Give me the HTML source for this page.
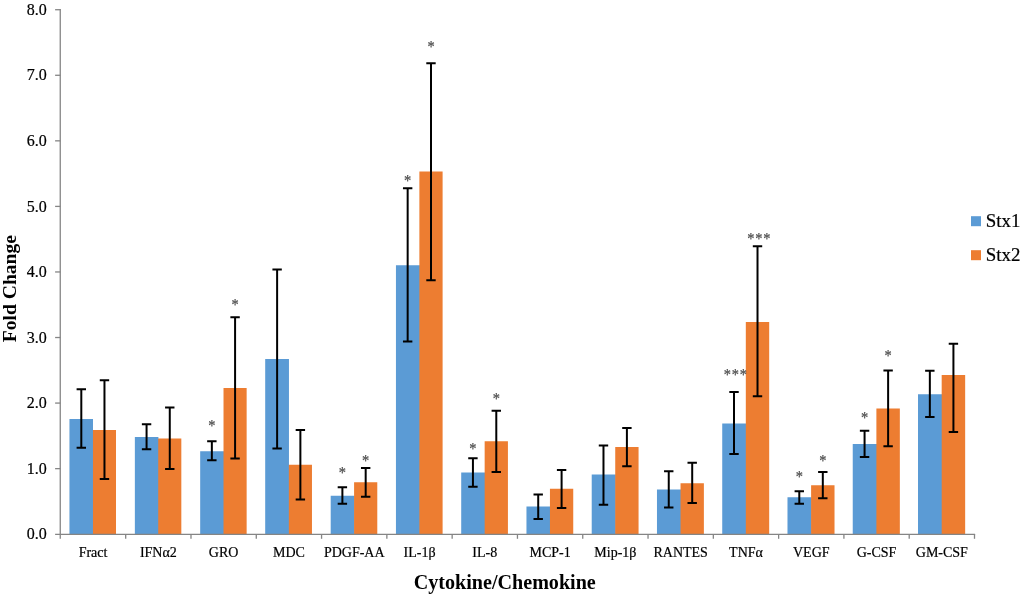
<!DOCTYPE html>
<html lang="en"><head><meta charset="utf-8"><title>Cytokine/Chemokine Fold Change</title>
<style>html,body{margin:0;padding:0;background:#fff}svg{display:block;will-change:transform;transform:translateZ(0)}text{font-family:"Liberation Serif","Times New Roman",serif}</style></head><body>
<svg width="1024" height="594" viewBox="0 0 1024 594">
<rect width="1024" height="594" fill="#fff"/>
<rect x="69.67" y="419.00" width="23.27" height="115.00" fill="#5b9bd5"/>
<rect x="92.34" y="430.00" width="23.66" height="104.00" fill="#ed7d31"/>
<rect x="69.67" y="419.00" width="23.27" height="115.00" fill="#5b9bd5"/>
<rect x="134.93" y="437.00" width="23.30" height="97.00" fill="#5b9bd5"/>
<rect x="157.62" y="438.50" width="23.70" height="95.50" fill="#ed7d31"/>
<rect x="134.93" y="437.00" width="23.30" height="97.00" fill="#5b9bd5"/>
<rect x="200.18" y="451.25" width="23.93" height="82.75" fill="#5b9bd5"/>
<rect x="223.51" y="388.00" width="23.13" height="146.00" fill="#ed7d31"/>
<rect x="265.44" y="359.00" width="23.36" height="175.00" fill="#5b9bd5"/>
<rect x="288.20" y="464.75" width="23.76" height="69.25" fill="#ed7d31"/>
<rect x="265.44" y="359.00" width="23.36" height="175.00" fill="#5b9bd5"/>
<rect x="330.69" y="495.75" width="23.99" height="38.25" fill="#5b9bd5"/>
<rect x="354.09" y="482.25" width="23.19" height="51.75" fill="#ed7d31"/>
<rect x="395.95" y="265.25" width="24.03" height="268.75" fill="#5b9bd5"/>
<rect x="419.38" y="171.50" width="23.22" height="362.50" fill="#ed7d31"/>
<rect x="461.21" y="472.50" width="24.06" height="61.50" fill="#5b9bd5"/>
<rect x="484.66" y="441.25" width="23.26" height="92.75" fill="#ed7d31"/>
<rect x="526.46" y="506.50" width="24.09" height="27.50" fill="#5b9bd5"/>
<rect x="549.95" y="488.75" width="23.29" height="45.25" fill="#ed7d31"/>
<rect x="591.72" y="474.50" width="24.12" height="59.50" fill="#5b9bd5"/>
<rect x="615.24" y="447.00" width="23.32" height="87.00" fill="#ed7d31"/>
<rect x="656.97" y="489.50" width="24.15" height="44.50" fill="#5b9bd5"/>
<rect x="680.53" y="483.25" width="23.35" height="50.75" fill="#ed7d31"/>
<rect x="722.23" y="423.50" width="24.19" height="110.50" fill="#5b9bd5"/>
<rect x="745.81" y="322.00" width="23.38" height="212.00" fill="#ed7d31"/>
<rect x="787.49" y="497.25" width="24.22" height="36.75" fill="#5b9bd5"/>
<rect x="811.10" y="485.25" width="23.42" height="48.75" fill="#ed7d31"/>
<rect x="852.74" y="444.00" width="24.25" height="90.00" fill="#5b9bd5"/>
<rect x="876.39" y="408.50" width="23.45" height="125.50" fill="#ed7d31"/>
<rect x="918.00" y="394.25" width="24.28" height="139.75" fill="#5b9bd5"/>
<rect x="941.68" y="375.00" width="23.48" height="159.00" fill="#ed7d31"/>
<g stroke="#858585" stroke-width="1.3" fill="none">
<line x1="60.25" y1="9.0" x2="60.25" y2="538.8"/>
<line x1="55.1" y1="534.45" x2="975.1" y2="534.45"/>
<line x1="55.1" y1="468.64" x2="60.4" y2="468.64"/>
<line x1="55.1" y1="403.08" x2="60.4" y2="403.08"/>
<line x1="55.1" y1="337.52" x2="60.4" y2="337.52"/>
<line x1="55.1" y1="271.96" x2="60.4" y2="271.96"/>
<line x1="55.1" y1="206.40" x2="60.4" y2="206.40"/>
<line x1="55.1" y1="140.84" x2="60.4" y2="140.84"/>
<line x1="55.1" y1="75.28" x2="60.4" y2="75.28"/>
<line x1="55.1" y1="9.72" x2="60.4" y2="9.72"/>
<line x1="125.69" y1="534.0" x2="125.69" y2="538.8"/>
<line x1="190.99" y1="534.0" x2="190.99" y2="538.8"/>
<line x1="256.28" y1="534.0" x2="256.28" y2="538.8"/>
<line x1="321.57" y1="534.0" x2="321.57" y2="538.8"/>
<line x1="386.86" y1="534.0" x2="386.86" y2="538.8"/>
<line x1="452.16" y1="534.0" x2="452.16" y2="538.8"/>
<line x1="517.45" y1="534.0" x2="517.45" y2="538.8"/>
<line x1="582.74" y1="534.0" x2="582.74" y2="538.8"/>
<line x1="648.04" y1="534.0" x2="648.04" y2="538.8"/>
<line x1="713.33" y1="534.0" x2="713.33" y2="538.8"/>
<line x1="778.62" y1="534.0" x2="778.62" y2="538.8"/>
<line x1="843.91" y1="534.0" x2="843.91" y2="538.8"/>
<line x1="909.21" y1="534.0" x2="909.21" y2="538.8"/>
<line x1="974.50" y1="534.0" x2="974.50" y2="538.8"/>
</g>
<g stroke="#000" fill="none">
<path d="M81.30 389.25V447.75" stroke-width="2.0"/>
<path d="M76.60 389.25h9.4M76.60 447.75h9.4" stroke-width="2.0"/>
<path d="M104.47 380.25V479.00" stroke-width="2.0"/>
<path d="M99.77 380.25h9.4M99.77 479.00h9.4" stroke-width="2.0"/>
<path d="M146.57 424.25V449.25" stroke-width="2.0"/>
<path d="M141.87 424.25h9.4M141.87 449.25h9.4" stroke-width="2.0"/>
<path d="M169.77 407.50V469.00" stroke-width="2.0"/>
<path d="M165.07 407.50h9.4M165.07 469.00h9.4" stroke-width="2.0"/>
<path d="M211.85 441.25V460.25" stroke-width="2.0"/>
<path d="M207.15 441.25h9.4M207.15 460.25h9.4" stroke-width="2.0"/>
<path d="M235.08 317.25V458.50" stroke-width="2.0"/>
<path d="M230.38 317.25h9.4M230.38 458.50h9.4" stroke-width="2.0"/>
<path d="M277.12 269.50V448.50" stroke-width="2.0"/>
<path d="M272.42 269.50h9.4M272.42 448.50h9.4" stroke-width="2.0"/>
<path d="M300.38 430.00V499.50" stroke-width="2.0"/>
<path d="M295.68 430.00h9.4M295.68 499.50h9.4" stroke-width="2.0"/>
<path d="M342.39 487.25V503.75" stroke-width="2.0"/>
<path d="M337.69 487.25h9.4M337.69 503.75h9.4" stroke-width="2.0"/>
<path d="M365.68 468.00V496.75" stroke-width="2.0"/>
<path d="M360.98 468.00h9.4M360.98 496.75h9.4" stroke-width="2.0"/>
<path d="M407.66 188.25V341.50" stroke-width="2.0"/>
<path d="M402.96 188.25h9.4M402.96 341.50h9.4" stroke-width="2.0"/>
<path d="M430.99 63.25V280.25" stroke-width="2.0"/>
<path d="M426.29 63.25h9.4M426.29 280.25h9.4" stroke-width="2.0"/>
<path d="M472.93 458.25V486.75" stroke-width="2.0"/>
<path d="M468.23 458.25h9.4M468.23 486.75h9.4" stroke-width="2.0"/>
<path d="M496.29 410.75V472.00" stroke-width="2.0"/>
<path d="M491.59 410.75h9.4M491.59 472.00h9.4" stroke-width="2.0"/>
<path d="M538.21 494.50V519.00" stroke-width="2.0"/>
<path d="M533.51 494.50h9.4M533.51 519.00h9.4" stroke-width="2.0"/>
<path d="M561.60 470.00V508.00" stroke-width="2.0"/>
<path d="M556.90 470.00h9.4M556.90 508.00h9.4" stroke-width="2.0"/>
<path d="M603.48 445.50V504.75" stroke-width="2.0"/>
<path d="M598.78 445.50h9.4M598.78 504.75h9.4" stroke-width="2.0"/>
<path d="M626.90 428.00V466.25" stroke-width="2.0"/>
<path d="M622.20 428.00h9.4M622.20 466.25h9.4" stroke-width="2.0"/>
<path d="M668.75 471.25V507.50" stroke-width="2.0"/>
<path d="M664.05 471.25h9.4M664.05 507.50h9.4" stroke-width="2.0"/>
<path d="M692.20 462.75V503.00" stroke-width="2.0"/>
<path d="M687.50 462.75h9.4M687.50 503.00h9.4" stroke-width="2.0"/>
<path d="M734.02 392.00V454.00" stroke-width="2.0"/>
<path d="M729.32 392.00h9.4M729.32 454.00h9.4" stroke-width="2.0"/>
<path d="M757.51 246.25V396.25" stroke-width="2.0"/>
<path d="M752.81 246.25h9.4M752.81 396.25h9.4" stroke-width="2.0"/>
<path d="M799.29 491.25V503.75" stroke-width="2.0"/>
<path d="M794.59 491.25h9.4M794.59 503.75h9.4" stroke-width="2.0"/>
<path d="M822.81 472.00V498.25" stroke-width="2.0"/>
<path d="M818.11 472.00h9.4M818.11 498.25h9.4" stroke-width="2.0"/>
<path d="M864.57 430.75V457.00" stroke-width="2.0"/>
<path d="M859.87 430.75h9.4M859.87 457.00h9.4" stroke-width="2.0"/>
<path d="M888.12 370.50V446.25" stroke-width="2.0"/>
<path d="M883.42 370.50h9.4M883.42 446.25h9.4" stroke-width="2.0"/>
<path d="M929.84 370.75V417.00" stroke-width="2.0"/>
<path d="M925.14 370.75h9.4M925.14 417.00h9.4" stroke-width="2.0"/>
<path d="M953.42 343.75V432.00" stroke-width="2.0"/>
<path d="M948.72 343.75h9.4M948.72 432.00h9.4" stroke-width="2.0"/>
</g>
<g font-size="16" fill="#505050" stroke="#505050" stroke-width="0.25" text-anchor="middle">
<text transform="translate(212.25 431.25) scale(0.9 1)" letter-spacing="0.89">*</text>
<text transform="translate(235.48 309.75) scale(0.9 1)" letter-spacing="0.89">*</text>
<text transform="translate(342.79 477.75) scale(0.9 1)" letter-spacing="0.89">*</text>
<text transform="translate(366.08 466.25) scale(0.9 1)" letter-spacing="0.89">*</text>
<text transform="translate(408.06 185.50) scale(0.9 1)" letter-spacing="0.89">*</text>
<text transform="translate(431.39 52.25) scale(0.9 1)" letter-spacing="0.89">*</text>
<text transform="translate(473.33 454.25) scale(0.9 1)" letter-spacing="0.89">*</text>
<text transform="translate(496.69 403.75) scale(0.9 1)" letter-spacing="0.89">*</text>
<text transform="translate(735.72 379.75) scale(0.9 1)" letter-spacing="0.89">***</text>
<text transform="translate(759.21 243.75) scale(0.9 1)" letter-spacing="0.89">***</text>
<text transform="translate(799.69 481.75) scale(0.9 1)" letter-spacing="0.89">*</text>
<text transform="translate(823.21 465.75) scale(0.9 1)" letter-spacing="0.89">*</text>
<text transform="translate(864.97 422.50) scale(0.9 1)" letter-spacing="0.89">*</text>
<text transform="translate(888.52 361.25) scale(0.9 1)" letter-spacing="0.89">*</text>
</g>
<g font-size="16" fill="#000" stroke="#000" stroke-width="0.2" text-anchor="end">
<text x="46.7" y="539.40">0.0</text>
<text x="46.7" y="473.84">1.0</text>
<text x="46.7" y="408.28">2.0</text>
<text x="46.7" y="342.72">3.0</text>
<text x="46.7" y="277.16">4.0</text>
<text x="46.7" y="211.60">5.0</text>
<text x="46.7" y="146.04">6.0</text>
<text x="46.7" y="80.48">7.0</text>
<text x="46.7" y="14.92">8.0</text>
</g>
<g font-size="14" fill="#000" stroke="#000" stroke-width="0.2" text-anchor="middle">
<text x="93.05" y="556.5">Fract</text>
<text x="158.34" y="556.5">IFNα2</text>
<text x="223.63" y="556.5">GRO</text>
<text x="288.93" y="556.5">MDC</text>
<text x="354.22" y="556.5">PDGF-AA</text>
<text x="419.51" y="556.5">IL-1β</text>
<text x="484.80" y="556.5">IL-8</text>
<text x="550.10" y="556.5">MCP-1</text>
<text x="615.39" y="556.5">Mip-1β</text>
<text x="680.68" y="556.5">RANTES</text>
<text x="745.98" y="556.5">TNFα</text>
<text x="811.27" y="556.5">VEGF</text>
<text x="876.56" y="556.5">G-CSF</text>
<text x="941.85" y="556.5">GM-CSF</text>
</g>
<text x="504.8" y="589.0" font-size="20.1" font-weight="bold" text-anchor="middle" fill="#000">Cytokine/Chemokine</text>
<text transform="translate(16.4 288.6) rotate(-90)" font-size="19.6" font-weight="bold" text-anchor="middle" fill="#000">Fold Change</text>
<rect x="971" y="216.2" width="10" height="10" fill="#5b9bd5"/>
<rect x="971" y="250.2" width="10" height="10" fill="#ed7d31"/>
<text x="985.7" y="227.1" font-size="18.9" fill="#000" stroke="#000" stroke-width="0.2">Stx1</text>
<text x="985.7" y="260.7" font-size="18.9" fill="#000" stroke="#000" stroke-width="0.2">Stx2</text>
</svg></body></html>
